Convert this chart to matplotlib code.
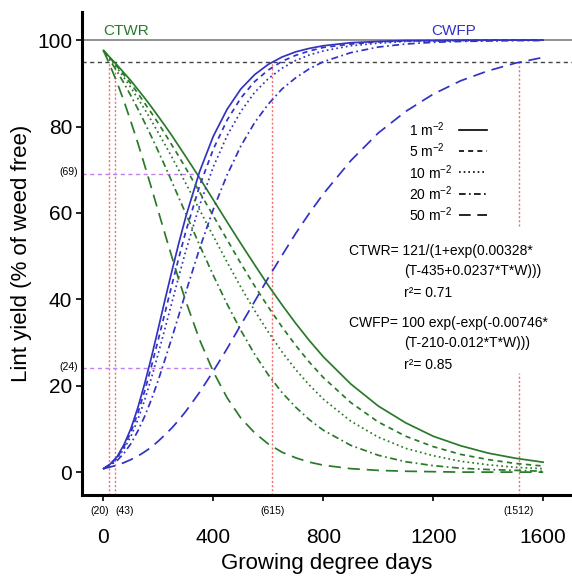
import matplotlib
matplotlib.use('Agg')
import matplotlib.pyplot as plt
from matplotlib.lines import Line2D

plt.rcParams['font.family'] = ['Liberation Sans', 'DejaVu Sans']
plt.rcParams['mathtext.fontset'] = 'custom'
plt.rcParams['mathtext.rm'] = 'Liberation Sans'
plt.rcParams['mathtext.it'] = 'Liberation Sans:italic'

# growing degree days
gdd = [0, 25, 50, 75, 100, 125, 150, 175, 200, 225, 250, 275, 300, 350, 400, 450, 500, 550,
       600, 650, 700, 750, 800, 900, 1000, 1100, 1200, 1300, 1400, 1500, 1600]
densities = [1, 5, 10, 20, 50]
density_labels = ['1 m$^{-2}$', '5 m$^{-2}$', '10 m$^{-2}$', '20 m$^{-2}$', '50 m$^{-2}$']

# CTWR curves (green)
ctwr_1 = [97.6, 95.9, 94.2, 92.4, 90.6, 88.6, 86.6, 84.5, 82.3, 80.1, 77.8, 75.4, 73.0, 68.1,
          63.0, 57.9, 52.9, 48.0, 43.2, 38.7, 34.4, 30.4, 26.7, 20.4, 15.3, 11.4, 8.3, 6.1,
          4.4, 3.2, 2.3]
ctwr_5 = [97.6, 95.8, 93.9, 91.9, 89.9, 87.7, 85.4, 83.1, 80.7, 78.2, 75.6, 73.0, 70.3, 64.8,
          59.3, 53.8, 48.3, 43.1, 38.2, 33.6, 29.3, 25.4, 21.9, 16.1, 11.6, 8.3, 5.9, 4.1,
          2.9, 2.0, 1.4]
ctwr_10 = [97.6, 95.6, 93.5, 91.3, 89.0, 86.5, 84.0, 81.3, 78.5, 75.7, 72.8, 69.8, 66.8, 60.7,
           54.6, 48.6, 42.8, 37.4, 32.4, 27.8, 23.7, 20.1, 16.9, 11.8, 8.1, 5.5, 3.8, 2.5,
           1.7, 1.1, 0.8]
ctwr_20 = [97.6, 95.2, 92.7, 90.0, 87.1, 84.1, 80.9, 77.6, 74.2, 70.7, 67.1, 63.4, 59.8, 52.5,
           45.5, 38.9, 32.8, 27.3, 22.5, 18.4, 15.0, 12.1, 9.7, 6.2, 3.9, 2.4, 1.5, 0.9,
           0.6, 0.4, 0.2]
ctwr_50 = [97.6, 94.0, 90.1, 85.8, 81.1, 76.2, 71.0, 65.7, 60.3, 54.9, 49.6, 44.4, 39.5, 30.6,
           23.2, 17.2, 12.5, 9.1, 6.5, 4.6, 3.3, 2.3, 1.6, 0.8, 0.4, 0.2, 0.1, 0.0,
           0.0, 0.0, 0.0]

# CWFP curves (blue)
cwfp_1 = [0.8, 1.9, 3.6, 6.4, 10.1, 14.9, 20.5, 26.7, 33.4, 40.2, 46.8, 53.2, 59.2, 69.6,
          77.8, 84.0, 88.7, 92.0, 94.4, 96.1, 97.3, 98.1, 98.7, 99.4, 99.7, 99.9, 99.9, 100.0,
          100.0, 100.0, 100.0]
cwfp_5 = [0.8, 1.8, 3.4, 5.9, 9.3, 13.6, 18.8, 24.6, 30.8, 37.2, 43.6, 49.8, 55.8, 66.3,
          74.8, 81.5, 86.6, 90.4, 93.1, 95.1, 96.5, 97.5, 98.3, 99.1, 99.6, 99.8, 99.9, 99.9,
          100.0, 100.0, 100.0]
cwfp_10 = [0.8, 1.7, 3.2, 5.4, 8.3, 12.1, 16.7, 21.9, 27.6, 33.5, 39.5, 45.5, 51.3, 61.8,
           70.7, 77.9, 83.5, 87.9, 91.1, 93.5, 95.3, 96.6, 97.5, 98.7, 99.3, 99.7, 99.8, 99.9,
           99.9, 100.0, 100.0]
cwfp_20 = [0.8, 1.6, 2.7, 4.4, 6.6, 9.5, 12.9, 16.9, 21.4, 26.3, 31.3, 36.5, 41.7, 51.8,
           60.9, 68.8, 75.5, 80.9, 85.2, 88.7, 91.3, 93.4, 95.0, 97.1, 98.4, 99.1, 99.5, 99.7,
           99.8, 99.9, 99.9]
cwfp_50 = [0.8, 1.2, 1.6, 2.2, 2.9, 3.7, 4.7, 5.8, 7.2, 8.7, 10.3, 12.1, 14.1, 18.5,
           23.4, 28.6, 34.1, 39.5, 45.0, 50.2, 55.3, 60.0, 64.4, 72.1, 78.5, 83.5, 87.5, 90.6,
           92.9, 94.7, 96.0]

ctwr = [ctwr_1, ctwr_5, ctwr_10, ctwr_20, ctwr_50]
cwfp = [cwfp_1, cwfp_5, cwfp_10, cwfp_20, cwfp_50]

# marked thresholds
gdd_marks = [20, 43, 615, 1512]
yield_marks = [69, 24]
cross_gdd = [345, 400]

styles = ['-', (0, (3, 2.5)), (0, (1, 1.8)), (0, (4, 2, 1, 2)), (0, (7, 4))]
green = '#2a7a2a'
blue = '#3232c4'
red = '#f07070'

fig = plt.figure(figsize=(5.72, 5.77), dpi=100)
ax = fig.add_axes([0.1434, 0.1421, 0.8566, 0.837])

# reference lines
ax.axhline(100, color='#808080', lw=1.2)
ax.axhline(95, color='#444444', lw=1.0, ls=(0, (3, 2.5)))
for g in gdd_marks[:3]:
    ax.plot([g, g], [-5.3, 95], color=red, lw=1.0, ls=(0, (1.5, 1.5)))
ax.plot([gdd_marks[3]] * 2, [-5.3, 23], color=red, lw=1.0, ls=(0, (1.5, 1.5)))
ax.plot([gdd_marks[3]] * 2, [57, 95], color=red, lw=1.0, ls=(0, (1.5, 1.5)))
for yv, xe in zip(yield_marks, cross_gdd):
    ax.plot([-78, xe], [yv, yv], color='#c080f0', lw=1.0, ls=(0, (3, 2.5)))

for i in range(len(densities)):
    ax.plot(gdd, ctwr[i], color=green, lw=1.25, ls=styles[i])
    ax.plot(gdd, cwfp[i], color=blue, lw=1.25, ls=styles[i])

ax.set_xlim(-78, 1705)
ax.set_ylim(-5.3, 106.5)
ax.set_xticks([0, 400, 800, 1200, 1600])
ax.set_yticks([0, 20, 40, 60, 80, 100])
for s in ['top', 'right']:
    ax.spines[s].set_visible(False)
for s in ['left', 'bottom']:
    ax.spines[s].set_linewidth(2.2)
ax.tick_params(axis='x', direction='out', length=4, width=1.2, pad=20, labelsize=15)
ax.tick_params(axis='y', direction='out', length=4, width=1.2, pad=3, labelsize=15)
ax.set_xlabel('Growing degree days', fontsize=16, labelpad=4)
ax.set_ylabel('Lint yield (% of weed free)', fontsize=16, labelpad=4)

ax.text(0, 102.2, 'CTWR', color=green, fontsize=11, ha='left', va='center')
ax.text(1276, 102.2, 'CWFP', color=blue, fontsize=11, ha='center', va='center')

for yv in yield_marks:
    ax.text(-93, yv + 0.4, '(%d)' % yv, fontsize=7.5, ha='right', va='center', clip_on=False)
ax.text(20, -9.0, '(20)', fontsize=7.5, ha='right', va='center', clip_on=False)
ax.text(43, -9.0, '(43)', fontsize=7.5, ha='left', va='center', clip_on=False)
ax.text(615, -9.0, '(615)', fontsize=7.5, ha='center', va='center', clip_on=False)
ax.text(1512, -9.0, '(1512)', fontsize=7.5, ha='center', va='center', clip_on=False)

ax.text(895, 51.2, 'CTWR= 121/(1+exp(0.00328*', fontsize=10, va='center')
ax.text(1095, 46.6, '(T-435+0.0237*T*W)))', fontsize=10, va='center')
ax.text(1095, 41.4, 'r²= 0.71', fontsize=10, va='center')
ax.text(895, 34.5, 'CWFP= 100 exp(-exp(-0.00746*', fontsize=10, va='center')
ax.text(1095, 29.8, '(T-210-0.012*T*W)))', fontsize=10, va='center')
ax.text(1095, 24.8, 'r²= 0.85', fontsize=10, va='center')

# legend: label text left of a black line sample
for i, lab in enumerate(density_labels):
    yf = 1 - (129.5 + 21.4 * i) / 577
    fig.text(409 / 572, yf, lab, fontsize=10, ha='left', va='center')
    fig.add_artist(Line2D([459 / 572, 487 / 572], [yf, yf], transform=fig.transFigure,
                          color='black', lw=1.2, ls=styles[i]))

fig.savefig('out.png', dpi=100)
